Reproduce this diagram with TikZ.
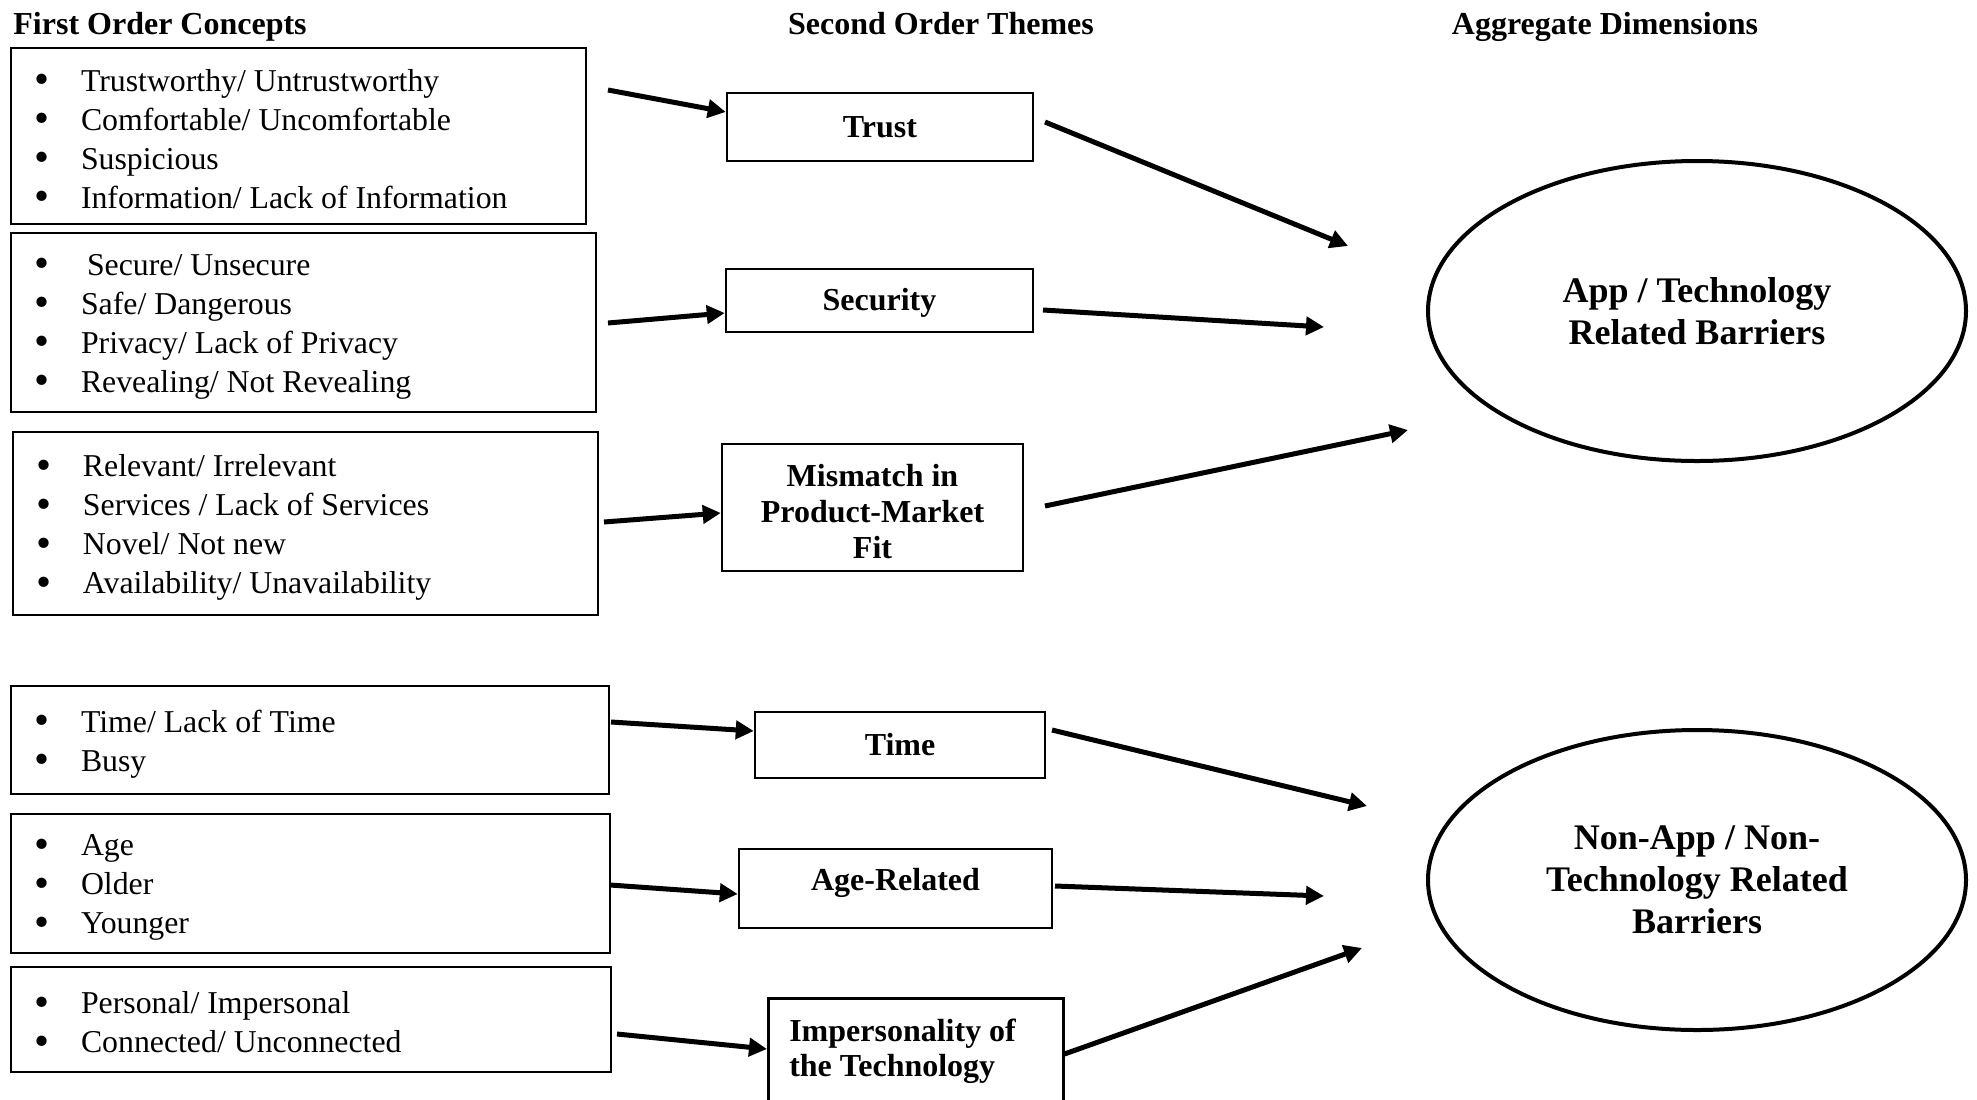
\documentclass[tikz,border=0pt]{standalone}
\usepackage{fontspec}
\usepackage{graphicx}
\setmainfont{Liberation Serif}
\usetikzlibrary{arrows.meta,shapes.geometric}
\newcommand{\bl}[1]{\makebox[23.5pt][l]{\raisebox{-1.3pt}{\scalebox{1.35}{\textbullet}}}#1}
\newcommand{\lst}[2]{\raisebox{-2pt}[\height][\depth]{\parbox{#1}{\raggedright #2}}}
\begin{document}
\begin{tikzpicture}[x=0.5pt,y=-0.5pt,
  lbox/.style={draw, line width=1.25pt, inner xsep=11.5pt, inner ysep=2pt, font=\fontsize{15.9}{19.5}\selectfont},
  tbox/.style={draw, line width=1.25pt, inner sep=2pt, align=center, font=\fontsize{16}{18}\selectfont\bfseries},
  dim/.style={draw, ellipse, line width=2pt, minimum width=269pt, minimum height=150pt, align=center, font=\fontsize{18}{21}\selectfont\bfseries},
  head/.style={font=\fontsize{16}{19}\selectfont\bfseries, inner sep=0pt},
  arr/.style={line width=2.5pt, -{Triangle[length=9pt,width=9pt]}}
]
\useasboundingbox (0,0) rectangle (1977,1099);
\fill[white] (0,0) rectangle (1977,1099);
\clip (0,0) rectangle (1977,1099);

% headers
\node[head, anchor=base west] (h1) at (13,34) {First Order Concepts};
\node[head, anchor=base] (h2) at (941,34) {Second Order Themes};
\node[head, anchor=base] (h3) at (1605,34) {Aggregate Dimensions};

% first order concept boxes
\node[lbox, minimum height=88pt] (c1) at (298.5,136)
  {\lst{264.5pt}{\bl{Trustworthy/ Untrustworthy}\\\bl{Comfortable/ Uncomfortable}\\\bl{Suspicious}\\\bl{Information/ Lack of Information}}};
\node[lbox, minimum height=89.5pt] (c2) at (303.5,322.5)
  {\lst{269.5pt}{\bl{\hspace{3pt}Secure/ Unsecure}\\\bl{Safe/ Dangerous}\\\bl{Privacy/ Lack of Privacy}\\\bl{Revealing/ Not Revealing}}};
\node[lbox, minimum height=91.5pt] (c3) at (305.5,523.5)
  {\lst{269.5pt}{\bl{Relevant/ Irrelevant}\\\bl{Services / Lack of Services}\\\bl{Novel/ Not new}\\\bl{Availability/ Unavailability}}};
\node[lbox, minimum height=54pt] (c4) at (310,740)
  {\lst{276pt}{\bl{Time/ Lack of Time}\\\bl{Busy}}};
\node[lbox, minimum height=69.5pt] (c5) at (310.5,883.5)
  {\lst{276.5pt}{\bl{Age}\\\bl{Older}\\\bl{Younger}}};
\node[lbox, minimum height=52.5pt] (c6) at (311,1019.5)
  {\lst{277pt}{\bl{Personal/ Impersonal}\\\bl{Connected/ Unconnected}}};

% second order themes
\node[tbox, minimum width=153pt, minimum height=34pt] (trust) at (880,127) {Trust};
\node[tbox, minimum width=153.5pt, minimum height=31.5pt] (sec) at (879.5,300.5) {\raisebox{-1pt}[\height][\depth]{Security}};
\node[tbox, minimum width=150.5pt, minimum height=63.5pt] (mis) at (872.5,507.5)
  {\raisebox{-4pt}[\height][\depth]{\begin{tabular}{@{}c@{}}Mismatch in\\Product-Market\\Fit\end{tabular}}};
\node[tbox, minimum width=145pt, minimum height=33pt] (time) at (900,745) {Time};
\node[tbox, minimum width=156.5pt, minimum height=39.5pt] (age) at (895.5,888.5) {\raisebox{3pt}[\height][\depth]{Age-Related}};
\node[draw, line width=1.25pt, inner sep=0pt, anchor=north west, font=\fontsize{16}{17.5}\selectfont\bfseries] (imp) at (767,997)
  {\parbox[c][65pt][t]{147.5pt}{\leftskip=10.5pt\rule{0pt}{21.5pt}Impersonality of\\the Technology}};

% aggregate dimensions
\node[dim] (app) at (1697,311) {App / Technology\\Related Barriers};
\node[dim] (nonapp) at (1697,880) {Non-App / Non-\\Technology Related\\Barriers};

% free ends
\coordinate (a1) at (608,90);
\coordinate (a2) at (608,323);
\coordinate (a3) at (604,522);
\coordinate (a4) at (611,722);
\coordinate (a5) at (610,885);
\coordinate (a6) at (617,1034);
\coordinate (r1s) at (1045,122);
\coordinate (r1e) at (1348,246);
\coordinate (r2s) at (1043,310);
\coordinate (r2e) at (1324,327);
\coordinate (r3s) at (1045,506);
\coordinate (r3e) at (1408,430);
\coordinate (r4s) at (1052,730);
\coordinate (r4e) at (1367,806);
\coordinate (r5s) at (1055,886);
\coordinate (r5e) at (1324,896);
\coordinate (r6e) at (1362,948);

% connectors first -> second order
\draw[arr] (a1) -- (trust.west |- 0,112);
\draw[arr] (a2) -- (sec.west |- 0,313);
\draw[arr] (a3) -- (mis.west |- 0,513);
\draw[arr] (a4) -- (time.west |- 0,731);
\draw[arr] (a5) -- (age.west |- 0,894);
\draw[arr] (a6) -- (imp.west |- 0,1049);

% connectors second order -> aggregate
\draw[arr] (r1s) -- (r1e);
\draw[arr] (r2s) -- (r2e);
\draw[arr] (r3s) -- (r3e);
\draw[arr] (r4s) -- (r4e);
\draw[arr] (r5s) -- (r5e);
\draw[arr] (imp.east |- 0,1054) -- (r6e);
\end{tikzpicture}
\end{document}
